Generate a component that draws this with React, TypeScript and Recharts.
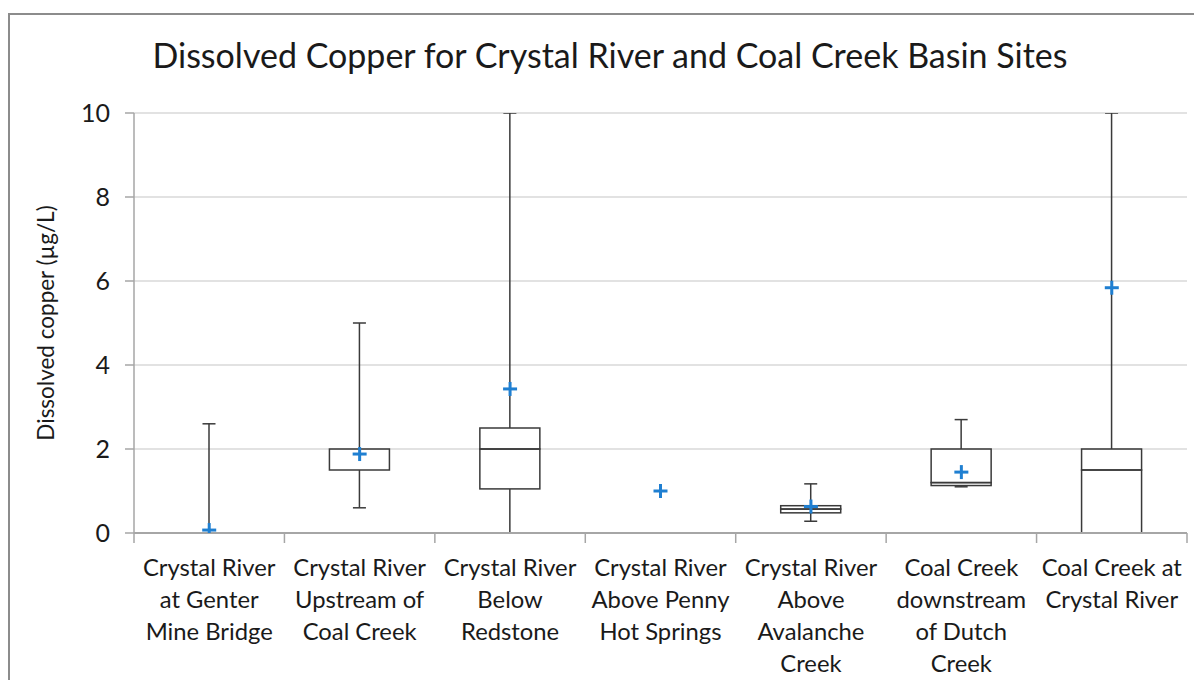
import React from "react";
import {
  ComposedChart,
  Bar,
  Line,
  XAxis,
  YAxis,
  CartesianGrid,
} from "recharts";

const categories = [
  "Crystal River\nat Genter\nMine Bridge",
  "Crystal River\nUpstream of\nCoal Creek",
  "Crystal River\nBelow\nRedstone",
  "Crystal River\nAbove Penny\nHot Springs",
  "Crystal River\nAbove\nAvalanche\nCreek",
  "Coal Creek\ndownstream\nof Dutch\nCreek",
  "Coal Creek at\nCrystal River",
];
const whiskerLow = [0, 0.6, 0, null, 0.28, 1.1, 0];
const q1 = [0, 1.5, 1.05, null, 0.48, 1.13, 0];
const median = [0, 2.0, 2.0, null, 0.57, 1.2, 1.5];
const q3 = [0, 2.0, 2.5, null, 0.65, 2.0, 2.0];
const whiskerHigh = [2.6, 5.0, 15, null, 1.17, 2.7, 18];
const mean = [0.07, 1.88, 3.43, 1.0, 0.63, 1.45, 5.84];
const yTicks = [0, 2, 4, 6, 8, 10];

const data = categories.map((name, i) => {
  const has = whiskerLow[i] !== null;
  return {
    name,
    base: has ? (whiskerLow[i] as number) : 0,
    lowWhisker: has ? (q1[i] as number) - (whiskerLow[i] as number) : 0,
    boxLow: has ? (median[i] as number) - (q1[i] as number) : 0,
    boxHigh: has ? (q3[i] as number) - (median[i] as number) : 0,
    highWhisker: has ? (whiskerHigh[i] as number) - (q3[i] as number) : 0,
    wLow: whiskerLow[i],
    mean: mean[i],
  };
});

const FONT = "Lato, 'Open Sans', sans-serif";
const INK = "#3a3a3a";
const AXIS = "#a6a6a6";
const BLUE = "#1f7fd1";
const CAP = 6.5;

const Empty = () => null;

const LowWhisker = (props: any) => {
  const { x, y, width, height, payload } = props;
  if (!height || height <= 0) return null;
  const cx = x + width / 2;
  return (
    <g>
      <line x1={cx} x2={cx} y1={y} y2={y + height} stroke={INK} strokeWidth={1.5} />
      {payload && payload.wLow !== 0 ? (
        <line x1={cx - CAP} x2={cx + CAP} y1={y + height} y2={y + height} stroke={INK} strokeWidth={1.5} />
      ) : null}
    </g>
  );
};

const HighWhisker = (props: any) => {
  const { x, y, width, height } = props;
  if (!height || height <= 0) return null;
  const cx = x + width / 2;
  return (
    <g>
      <line x1={cx} x2={cx} y1={y} y2={y + height} stroke={INK} strokeWidth={1.5} />
      <line x1={cx - CAP} x2={cx + CAP} y1={y} y2={y} stroke={INK} strokeWidth={1.5} />
    </g>
  );
};

const BoxPart = (props: any) => {
  const { x, y, width, height } = props;
  if (!height || height <= 0) return null;
  return <rect x={x} y={y} width={width} height={height} fill="none" stroke={INK} strokeWidth={1.5} />;
};

const MeanDot = (props: any) => {
  const { cx, cy } = props;
  if (cx == null || cy == null) return null;
  return (
    <g>
      <line x1={cx - 7} x2={cx + 7} y1={cy} y2={cy} stroke={BLUE} strokeWidth={3} />
      <line x1={cx} x2={cx} y1={cy - 7} y2={cy + 7} stroke={BLUE} strokeWidth={3} />
    </g>
  );
};

const CatTick = (props: any) => {
  const { x, y, payload, index } = props;
  const lines = String(payload.value).split("\n");
  const half = typeof payload.offset === "number" ? payload.offset : 0;
  const last = index === categories.length - 1;
  return (
    <g>
      {half > 0 ? (
        <line x1={x - half} x2={x - half} y1={y} y2={y + 10} stroke={AXIS} strokeWidth={1.5} />
      ) : null}
      {half > 0 && last ? (
        <line x1={x + half} x2={x + half} y1={y} y2={y + 10} stroke={AXIS} strokeWidth={1.5} />
      ) : null}
      <text x={x} y={y} textAnchor="middle" fill="#1a1a1a" fontFamily={FONT} fontSize={23.8}>
        {lines.map((l, i) => (
          <tspan key={i} x={x} dy={i === 0 ? 43 : 32}>
            {l}
          </tspan>
        ))}
      </text>
    </g>
  );
};

export default function App() {
  return (
    <div
      style={{
        position: "relative",
        top: 5,
        width: 1192,
        height: 670,
        borderLeft: "2px solid #8c8c8c",
        borderTop: "2px solid #8c8c8c",
        background: "#fff",
      }}
    >
      <style>{`body{overflow:hidden;margin:8px;}`}</style>
      <div
        style={{
          position: "absolute",
          left: 0,
          top: 23,
          width: 1200,
          textAlign: "center",
          fontFamily: FONT,
          fontSize: 34,
          lineHeight: "34px",
          color: "#1a1a1a",
        }}
      >
        Dissolved Copper for Crystal River and Coal Creek Basin Sites
      </div>
      <ComposedChart
        width={1190}
        height={668}
        data={data}
        margin={{ top: 98, right: 13, bottom: 0, left: 0 }}
        barGap={0}
      >
        <CartesianGrid horizontal={true} vertical={false} stroke="#d9d9d9" strokeWidth={1.5} />
        <XAxis
          dataKey="name"
          interval={0}
          height={150}
          tickLine={false}
          tickSize={0}
          tickMargin={0}
          axisLine={{ stroke: AXIS, strokeWidth: 2 }}
          tick={<CatTick />}
        />
        <YAxis
          domain={[0, 10]}
          ticks={yTicks}
          allowDataOverflow={true}
          width={124}
          tickSize={9}
          tickMargin={15}
          tickLine={{ stroke: AXIS, strokeWidth: 1.5 }}
          axisLine={{ stroke: AXIS, strokeWidth: 1.5 }}
          tick={{ fill: "#1a1a1a", fontSize: 25, fontFamily: FONT }}
          label={{
            value: "Dissolved copper (µg/L)",
            angle: -90,
            position: "center",
            dx: -26,
            style: { fontFamily: FONT, fontSize: 22.5, fill: "#1a1a1a" },
          }}
        />
        <Bar dataKey="base" stackId="a" barSize={60} shape={<Empty />} isAnimationActive={false} />
        <Bar dataKey="lowWhisker" stackId="a" barSize={60} shape={<LowWhisker />} isAnimationActive={false} />
        <Bar dataKey="boxLow" stackId="a" barSize={60} shape={<BoxPart />} isAnimationActive={false} />
        <Bar dataKey="boxHigh" stackId="a" barSize={60} shape={<BoxPart />} isAnimationActive={false} />
        <Bar dataKey="highWhisker" stackId="a" barSize={60} shape={<HighWhisker />} isAnimationActive={false} />
        <Line
          dataKey="mean"
          stroke="none"
          dot={<MeanDot />}
          activeDot={false}
          isAnimationActive={false}
          legendType="none"
        />
      </ComposedChart>
    </div>
  );
}
